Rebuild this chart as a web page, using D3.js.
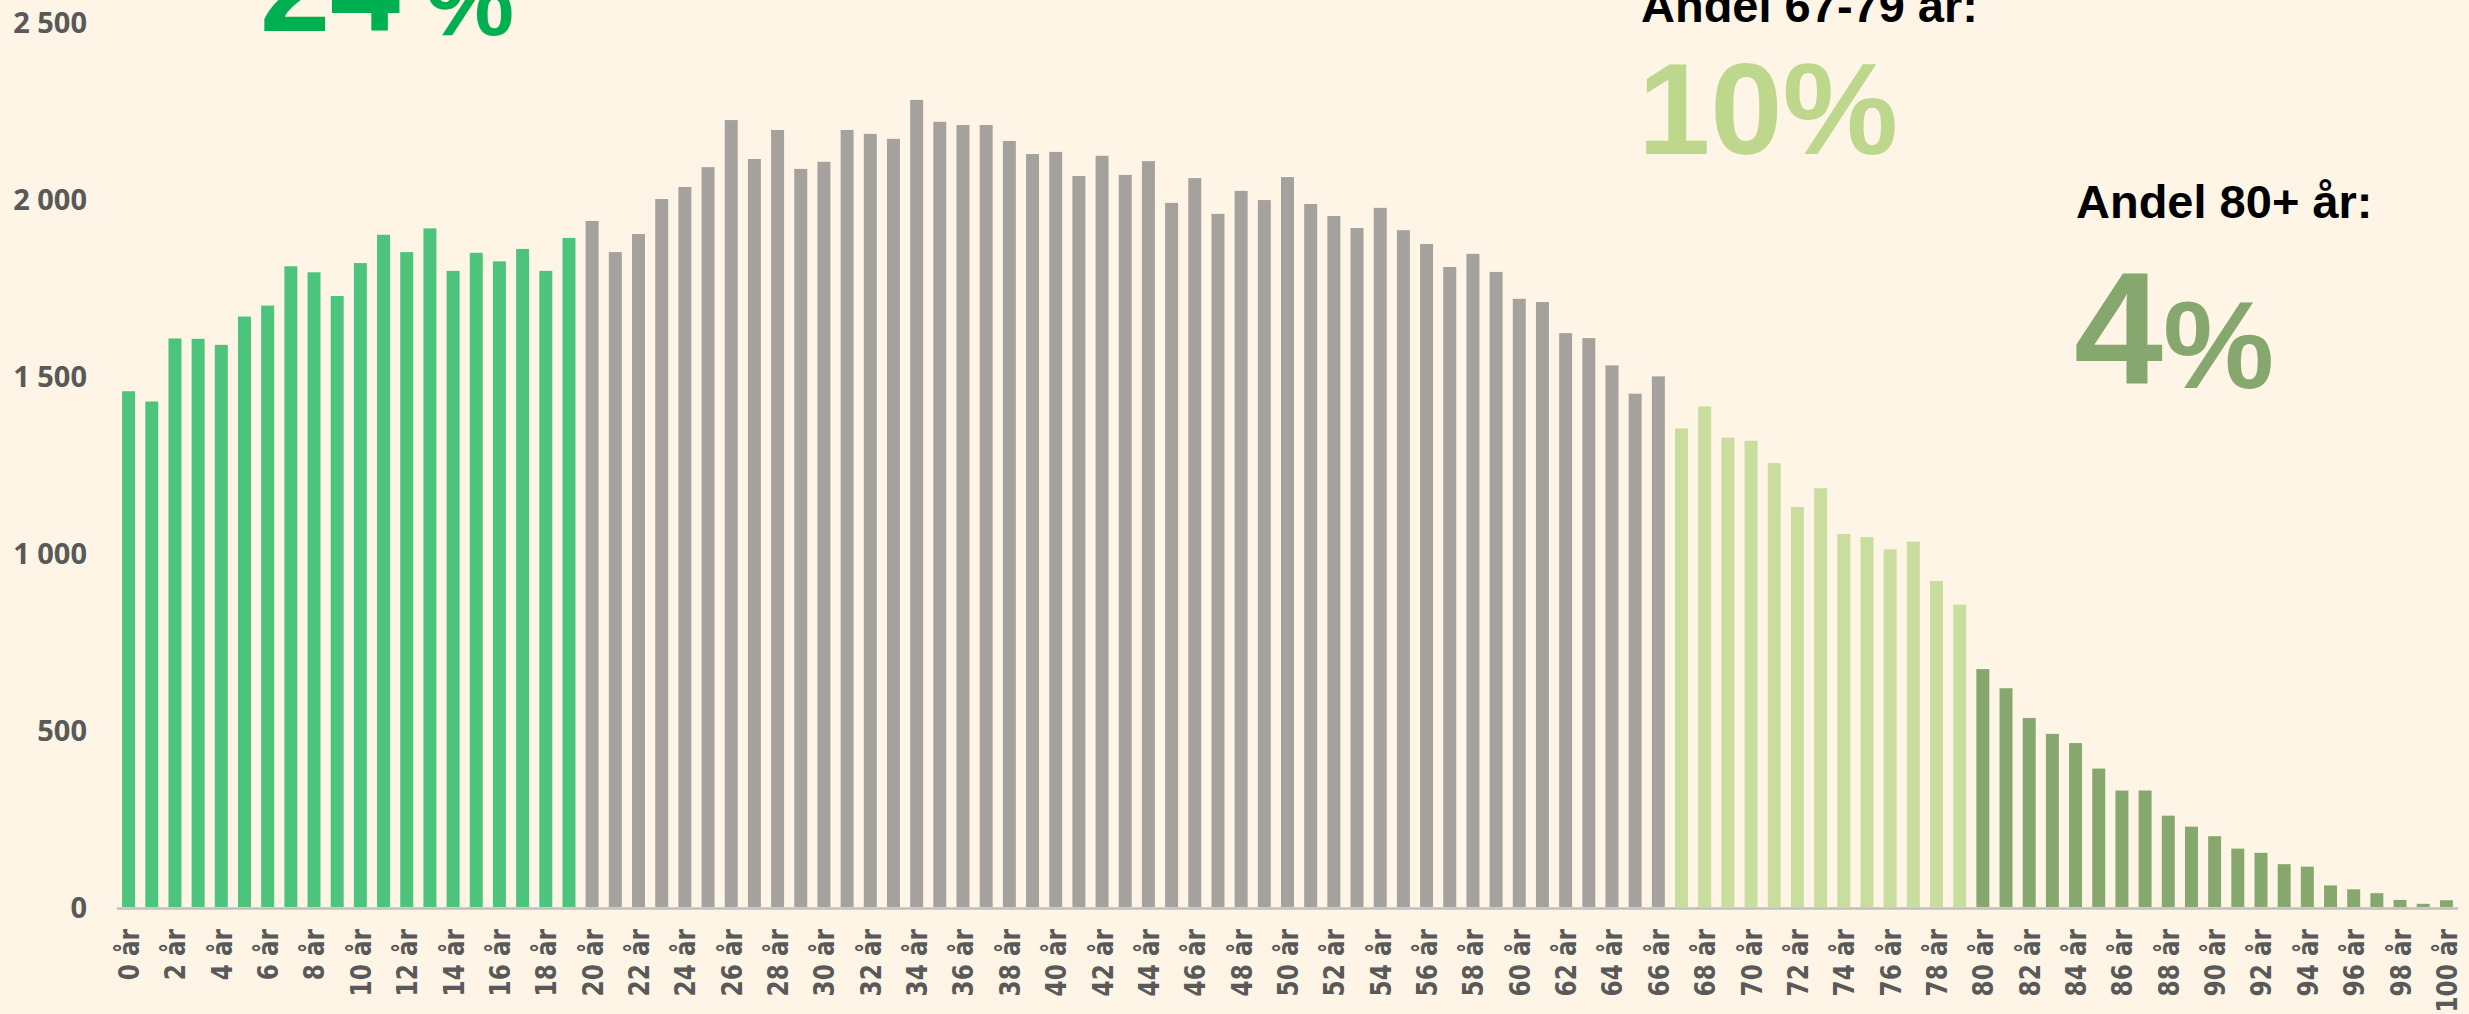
<!DOCTYPE html>
<html>
<head>
<meta charset="utf-8">
<script src="https://cdn.jsdelivr.net/npm/d3@7"></script>
<style>
  body { margin: 0; background: #fef5e6; overflow: hidden; }
</style>
</head>
<body>
<div id="chart"></div>
<script>
// set dimensions
var width = 2469;
var height = 1014;

// ages 0..100 (categories)
var ages = d3.range(0, 101);

// population per age
var population = [
  1457, 1428, 1606, 1605, 1588, 1668, 1699, 1810, 1793, 1726,
  1819, 1899, 1850, 1917, 1797, 1848, 1824, 1859, 1797, 1890,
  1938, 1850, 1901, 2000, 2034, 2090, 2223, 2113, 2195, 2085,
  2105, 2195, 2184, 2170, 2280, 2218, 2209, 2209, 2164, 2127,
  2133, 2065, 2122, 2068, 2107, 1989, 2059, 1958, 2023, 1997,
  2062, 1986, 1952, 1918, 1975, 1912, 1873, 1808, 1845, 1794,
  1718, 1709, 1621, 1607, 1530, 1450, 1499, 1352, 1414, 1326,
  1317, 1254, 1130, 1183, 1054, 1045, 1010, 1032, 921, 854,
  672, 618, 534, 489, 463, 391, 329, 329, 258, 227,
  200, 165, 153, 121, 114, 61, 50, 39, 20, 9,
  19
];

var yTicks = [0, 500, 1000, 1500, 2000, 2500];

// age groups: first age of each group and its colour
var groupStarts = [0, 20, 67, 80];
var groupColors = ["#4dc47c", "#a5a19c", "#c9dd9f", "#86a86e"];

var svg = d3.select("#chart")
  .append("svg")
    .attr("width", width)
    .attr("height", height);

svg.append("rect")
  .attr("width", width)
  .attr("height", height)
  .attr("fill", "#fef5e6");

var x = d3.scaleBand()
  .domain(ages)
  .range([117, 2458])
  .paddingInner(0.44)
  .paddingOuter(0.22);

var y = d3.scaleLinear()
  .domain([0, 2500])
  .range([907, 22]);

var color = d3.scaleThreshold()
  .domain(groupStarts.slice(1))
  .range(groupColors);

// bars
svg.selectAll("rect.bar")
  .data(ages)
  .enter()
  .append("rect")
    .attr("class", "bar")
    .attr("x", function(d) { return x(d); })
    .attr("width", x.bandwidth())
    .attr("y", function(d, i) { return y(population[i]); })
    .attr("height", function(d, i) { return y(0) - y(population[i]); })
    .attr("fill", function(d) { return color(d); });

// baseline
svg.append("line")
  .attr("x1", 117)
  .attr("x2", 2458)
  .attr("y1", 908.5)
  .attr("y2", 908.5)
  .attr("stroke", "#bfbfbf")
  .attr("stroke-width", 2.5);

// y axis labels
var yAxis = d3.axisLeft(y)
  .tickValues(yTicks)
  .tickSize(0)
  .tickPadding(0)
  .tickFormat(function(d) { return d3.format(",")(d).replace(",", " "); });

var yg = svg.append("g")
  .attr("transform", "translate(87,0)")
  .call(yAxis);
yg.select(".domain").remove();
yg.selectAll("text")
  .attr("dy", "0.36em")
  .style("font-family", "'Open Sans', sans-serif")
  .style("font-weight", "bold")
  .style("font-size", "29px")
  .attr("fill", "#595959");

// x axis labels (every other age)
svg.selectAll("text.xlab")
  .data(ages.filter(function(d) { return d % 2 === 0; }))
  .enter()
  .append("text")
    .attr("class", "xlab")
    .attr("transform", function(d) {
      return "translate(" + (x(d) + x.bandwidth() / 2) + ",929) rotate(-90) scale(0.8,1)";
    })
    .attr("dy", "0.36em")
    .attr("text-anchor", "end")
    .style("font-family", "'DejaVu Sans', sans-serif")
    .style("font-weight", "bold")
    .style("font-size", "29px")
    .attr("fill", "#595959")
    .text(function(d) { return d + " år"; });

// share annotations
var font = "'Liberation Sans', Arial, sans-serif";

var t24 = svg.append("text")
  .attr("x", 260).attr("y", 31)
  .style("font-family", font).style("font-weight", "bold")
  .attr("fill", "#00b050");
t24.append("tspan").style("font-size", "126px").text("24");
t24.append("tspan").style("font-size", "100px").attr("dx", 25).attr("dy", 4).text("%");

svg.append("text")
  .attr("x", 1641).attr("y", 22)
  .style("font-family", font).style("font-weight", "bold")
  .style("font-size", "47px")
  .attr("fill", "#000")
  .text("Andel 67-79 år:");

svg.append("text")
  .attr("x", 1638).attr("y", 154)
  .style("font-family", font).style("font-weight", "bold")
  .style("font-size", "130px")
  .attr("fill", "#bdd88c")
  .text("10%");

svg.append("text")
  .attr("x", 2076).attr("y", 218)
  .style("font-family", font).style("font-weight", "bold")
  .style("font-size", "47px")
  .attr("fill", "#000")
  .text("Andel 80+ år:");

var t4 = svg.append("text")
  .attr("x", 2074).attr("y", 383)
  .style("font-family", font).style("font-weight", "bold")
  .attr("fill", "#86a86e");
t4.append("tspan").style("font-size", "160px").text("4");
t4.append("tspan").style("font-size", "125px").attr("dy", 5).text("%");
</script>
</body>
</html>
